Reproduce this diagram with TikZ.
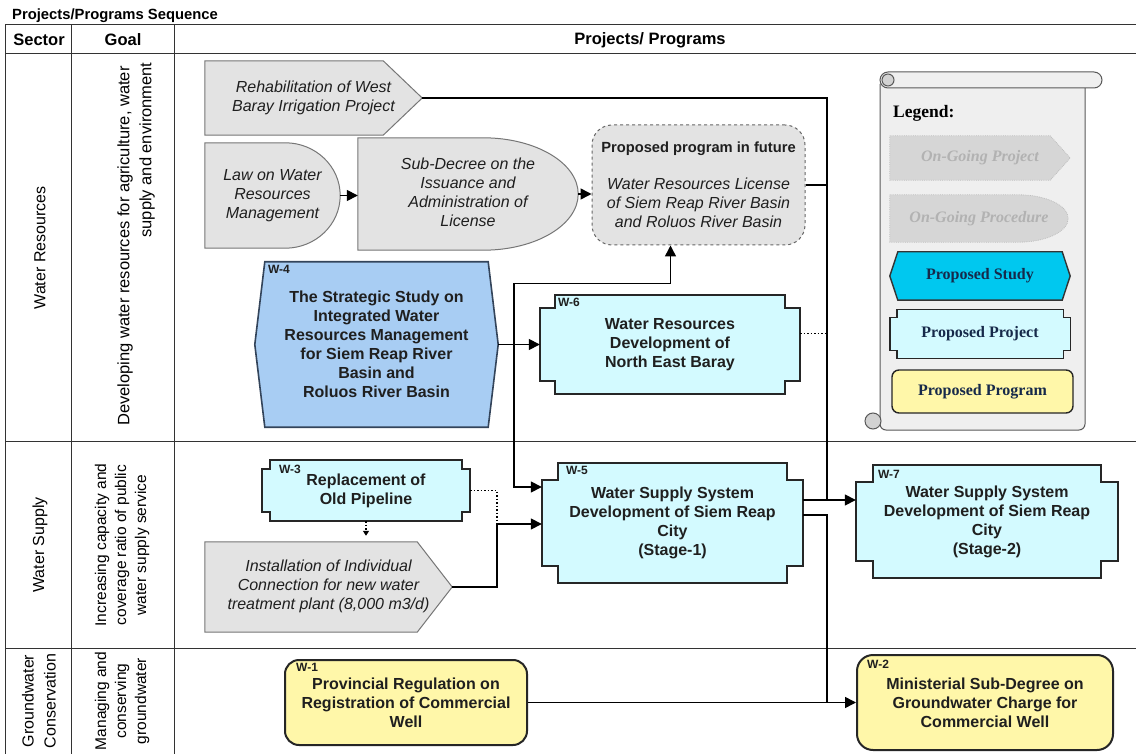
\documentclass[tikz,border=0pt]{standalone}
\usepackage{fontspec}
\setmainfont{Liberation Sans}
\newfontfamily\legendfont{Liberation Serif}
\usetikzlibrary{arrows.meta,calc}

\pgfdeclarelayer{background}
\pgfsetlayers{background,main}

\definecolor{ongoingfill}{HTML}{E3E3E3}
\definecolor{ongoingline}{HTML}{767676}
\definecolor{studyfill}{HTML}{A8CDF3}
\definecolor{studyline}{HTML}{33445A}
\definecolor{projectfill}{HTML}{D3FAFF}
\definecolor{programfill}{HTML}{FFF7A9}
\definecolor{legendcyan}{HTML}{00C8EF}
\definecolor{legendnavy}{HTML}{16294A}
\definecolor{scrollfill}{HTML}{EFEFEF}

% outlines drawn round a named node
\newcommand{\pentashape}[3]{%
  \path[#3] let \p1=(#1.north west), \p2=(#1.south east) in
    (\x1,\y1) -- (\x2-#2,\y1) -- (#1.east) -- (\x2-#2,\y2) -- (\x1,\y2) -- cycle;}
\newcommand{\procshape}[3]{%
  \path[#3] let \p1=(#1.north west), \p2=(#1.south east), \n1={(\y1-\y2)/2} in
    (\x1,\y1) -- (\x2-#2,\y1)
    arc[start angle=90, end angle=-90, x radius=#2, y radius=\n1*1pt]
    -- (\x1,\y2) -- cycle;}
\newcommand{\studyshape}[3]{%
  \path[#3] let \p1=(#1.north west), \p2=(#1.south east) in
    (\x1+#2,\y1) -- (\x2-#2,\y1) -- (#1.east) -- (\x2-#2,\y2)
    -- (\x1+#2,\y2) -- (#1.west) -- cycle;}
\newcommand{\projshape}[4]{%
  \path[#4] let \p1=(#1.north west), \p2=(#1.south east) in
    (\x1+#2,\y1) -- (\x2-#2,\y1) -- (\x2-#2,\y1-#3) -- (\x2,\y1-#3)
    -- (\x2,\y2+#3) -- (\x2-#2,\y2+#3) -- (\x2-#2,\y2) -- (\x1+#2,\y2)
    -- (\x1+#2,\y2+#3) -- (\x1,\y2+#3) -- (\x1,\y1-#3) -- (\x1+#2,\y1-#3) -- cycle;}

\begin{document}
\begin{tikzpicture}[x=1pt, y=-1pt,
    every node/.style={inner sep=0pt, text=black!88},
    boxsize/.style 2 args={minimum width=#1pt, minimum height=#2pt},
    itext/.style={font=\fontsize{16}{19}\selectfont\itshape},
    btext/.style={font=\fontsize{16}{19}\selectfont\bfseries, align=center},
    tag/.style={font=\fontsize{12}{12}\selectfont\bfseries, anchor=west},
    goal/.style={font=\fontsize{15.5}{20}\selectfont, text=black},
    ltext/.style={font=\legendfont\fontsize{16}{18}\selectfont\bfseries},
    lgitext/.style={font=\legendfont\fontsize{16}{18}\selectfont\bfseries\itshape, text=gray!60},
    tableline/.style={line width=1pt, black!80},
    link/.style={line width=1.5pt, black},
    conn/.style={link, -{Triangle[length=11pt, width=11pt]}},
    dotlink/.style={link, dotted},
    ongoing/.style={fill=ongoingfill, draw=ongoingline, line width=1pt},
    study/.style={fill=studyfill, draw=studyline, line width=1.6pt},
    project/.style={fill=projectfill, draw=black!85, line width=2pt},
    program/.style={fill=programfill, draw=black!85, line width=2pt, rounded corners=14pt},
    lgongoing/.style={fill=gray!32, draw=gray!50, densely dotted, line width=0.8pt},
    scroll/.style={fill=scrollfill, draw=black!65, line width=1pt}]
    \useasboundingbox (0,0) rectangle (1136,754);

    % Table
    \node[anchor=west, font=\fontsize{14.8}{15}\selectfont\bfseries, text=black] (title) at (12,16) {Projects/Programs Sequence};
    \draw[tableline] (5,25) -- (1136,25);
    \draw[tableline] (5,54) -- (1136,54);
    \draw[tableline] (5,441) -- (1136,441);
    \draw[tableline] (5,648) -- (1136,648);
    \foreach \x in {5,71,174} \draw[tableline] (\x,25) -- (\x,754);
    \node[font=\fontsize{16.5}{17}\selectfont\bfseries, text=black] (hSector) at (39,40) {Sector};
    \node[font=\fontsize{16.5}{17}\selectfont\bfseries, text=black] (hGoal) at (123,40) {Goal};
    \node[font=\fontsize{16.5}{17}\selectfont\bfseries, text=black] (hProj) at (650,40) {Projects/ Programs};

    % Sectors and goals
    \node[rotate=90, font=\fontsize{16}{18}\selectfont, text=black] (secWR) at (40,248) {Water Resources};
    \node[rotate=90, font=\fontsize{16}{18}\selectfont, text=black] (secWS) at (40,545) {Water Supply};
    \node[rotate=90, font=\fontsize{16}{22}\selectfont, text=black, align=center] (secGW) at (39,701) {Groundwater\\Conservation};
    \begin{scope}
        \clip (71,54) rectangle (174,441);
        \node[rotate=90, anchor=west, goal, font=\fontsize{16.5}{20}\selectfont] (goalWR) at (125,426) {Developing water resources for agriculture, water};
        \node[rotate=90, goal, font=\fontsize{16.5}{20}\selectfont] (goalWR2) at (147,150) {supply and environment};
    \end{scope}
    \node[rotate=90, goal, align=center] (goalWS) at (122,545) {Increasing capacity and\\coverage ratio of public\\water supply service};
    \node[rotate=90, goal, align=center] (goalGW) at (122,701) {Managing and\\conserving\\groundwater};

    % On-going projects and procedures
    \node[boxsize={217}{74}, itext] (Rehab) at (313.5,98)
        {\begin{tabular}{@{}c@{}}Rehabilitation of West\\Baray Irrigation Project\end{tabular}\hspace{16pt}};
    \node[boxsize={135}{105}, itext] (Law) at (272.5,195.5)
        {\begin{tabular}{@{}c@{}}Law on Water\\Resources\\Management\end{tabular}\hspace{15pt}};
    \node[boxsize={220}{112}, itext] (Sub) at (468,194)
        {\begin{tabular}{@{}c@{}}Sub-Decree on the\\Issuance and\\Administration of\\License\end{tabular}\hspace{36pt}};
    \node[boxsize={247}{90}, itext] (Inst) at (328.5,587)
        {\begin{tabular}{@{}c@{}}Installation of Individual\\Connection for new water\\treatment plant (8,000 m3/d)\end{tabular}\hspace{13pt}};
    \node[boxsize={213}{120}, itext, align=center, fill=ongoingfill, draw=black!60, dashed, line width=1pt, rounded corners=20pt] (Prop) at (698.5,185)
        {{\fontsize{14.7}{19}\selectfont\upshape\bfseries Proposed program in future}\\[18pt]
         Water Resources License\\of Siem Reap River Basin\\and Roluos River Basin};

    % Proposed study and projects
    \node[boxsize={243}{165}, btext] (W4) at (376.5,344.5)
        {The Strategic Study on\\Integrated Water\\Resources Management\\for Siem Reap River\\Basin and\\Roluos River Basin};
    \node[boxsize={260}{99}, btext] (W6) at (670,344.5)
        {Water Resources\\Development of\\North East Baray};
    \node[boxsize={208}{61}, btext] (W3) at (366,490.5)
        {Replacement of\\Old Pipeline};
    \node[boxsize={261}{120}, btext] (W5) at (672.5,523)
        {Water Supply System\\Development of Siem Reap\\City\\(Stage-1)};
    \node[boxsize={262}{113}, btext] (W7) at (987,521.5)
        {Water Supply System\\Development of Siem Reap\\City\\(Stage-2)};

    % Proposed programs
    \node[boxsize={242}{85}, btext, program] (W1) at (406,702.5)
        {Provincial Regulation on\\Registration of Commercial\\Well};
    \node[boxsize={256}{95}, btext, program, rounded corners=16pt] (W2) at (985,702.5)
        {Ministerial Sub-Degree on\\Groundwater Charge for\\Commercial Well};

    % Codes
    \node[tag] (tag4) at ($(W4.north west)+(13,8)$) {W-4};
    \node[tag] (tag6) at ($(W6.north west)+(18,8)$) {W-6};
    \node[tag] (tag3) at ($(W3.north west)+(17,10)$) {W-3};
    \node[tag] (tag5) at ($(W5.north west)+(24,8)$) {W-5};
    \node[tag] (tag7) at ($(W7.north west)+(22,10)$) {W-7};
    \node[tag] (tag1) at ($(W1.north west)+(12,8)$) {W-1};
    \node[tag] (tag2) at ($(W2.north west)+(11,10)$) {W-2};

    % Legend
    \node[anchor=west, font=\legendfont\fontsize{17.5}{18}\selectfont\bfseries, text=black] (lgTitle) at (893,113) {Legend:};
    \node[boxsize={180}{44}, lgitext] (LgProj) at (980,158) {On-Going Project};
    \node[boxsize={178}{47}, lgitext] (LgProc) at (979,218.5) {On-Going Procedure\hspace{24pt}};
    \node[boxsize={180}{48}, ltext, text=legendnavy] (LgStudy) at (980,276) {Proposed Study};
    \node[boxsize={180}{48}, ltext, text=legendnavy] (LgPrj) at (980,334) {Proposed Project};
    \node[boxsize={181}{43}, ltext, text=legendnavy, fill=programfill, draw=black!85, line width=1.4pt, rounded corners=7pt] (LgProg) at (982.5,391.5) {Proposed Program};

    \begin{pgfonlayer}{background}
        \fill[white] (0,0) rectangle (1136,754);
        % scroll
        \draw[scroll, rounded corners=6pt] (880,84) |- (1085,430) -- (1085,84);
        \draw[scroll, rounded corners=8pt] (880,72) rectangle (1102,88);
        \draw[scroll, fill=gray!35] (888,80) circle[radius=6pt];
        \draw[scroll, fill=gray!35] (873,421) circle[radius=8pt];
        % outlines
        \pentashape{Rehab}{39pt}{ongoing}
        \pentashape{Inst}{35pt}{ongoing}
        \procshape{Law}{55pt}{ongoing}
        \procshape{Sub}{95pt}{ongoing}
        \studyshape{W4}{10pt}{study}
        \projshape{W6}{15pt}{13pt}{project}
        \projshape{W3}{8pt}{9pt}{project}
        \projshape{W5}{16pt}{17pt}{project}
        \projshape{W7}{17pt}{17pt}{project}
        \pentashape{LgProj}{20pt}{lgongoing}
        \procshape{LgProc}{50pt}{lgongoing}
        \studyshape{LgStudy}{8pt}{fill=legendcyan, draw=black!80, line width=1.4pt}
        \projshape{LgPrj}{7pt}{8pt}{fill=projectfill, draw=black!85, line width=1.4pt}
    \end{pgfonlayer}

    % Connectors
    \coordinate (trunk) at (827,500);
    \coordinate (split) at (514,344.5);
    \coordinate (join) at (497,524);
    \draw[conn] (Law.east) -- (Law.east -| Sub.west);
    \draw[conn] (Sub.east) -- (Sub.east -| Prop.west);
    \draw[link] (Rehab.east) -| (trunk);
    \draw[link] (Prop.east) -- (Prop.east -| trunk);
    \draw[dotlink] ([yshift=11pt]W6.east) -- ([yshift=11pt]W6.east -| trunk);
    \draw[conn] (W4.east) -- (W6.west);
    \draw[conn] (split) |- ([xshift=-28pt,yshift=-38pt]Prop.south) -- ([xshift=-28pt]Prop.south);
    \draw[conn] (split) |- ([yshift=36pt]W5.west);
    \draw[dotlink] (W3.east) -| (join);
    \draw[dotlink, shorten >=6pt, -{Triangle[length=5pt, width=6pt]}] (W3.south) -- (W3.south |- Inst.north);
    \draw[link] (Inst.east) -| (join);
    \draw[conn] (join) -- (join -| W5.west);
    \draw[conn] (trunk -| W5.east) -- (trunk -| W7.west);
    \draw[link] ([yshift=8pt]W5.east) -| (W1.east -| trunk);
    \draw[conn] (W1.east) -- (W2.west);
\end{tikzpicture}
\end{document}
